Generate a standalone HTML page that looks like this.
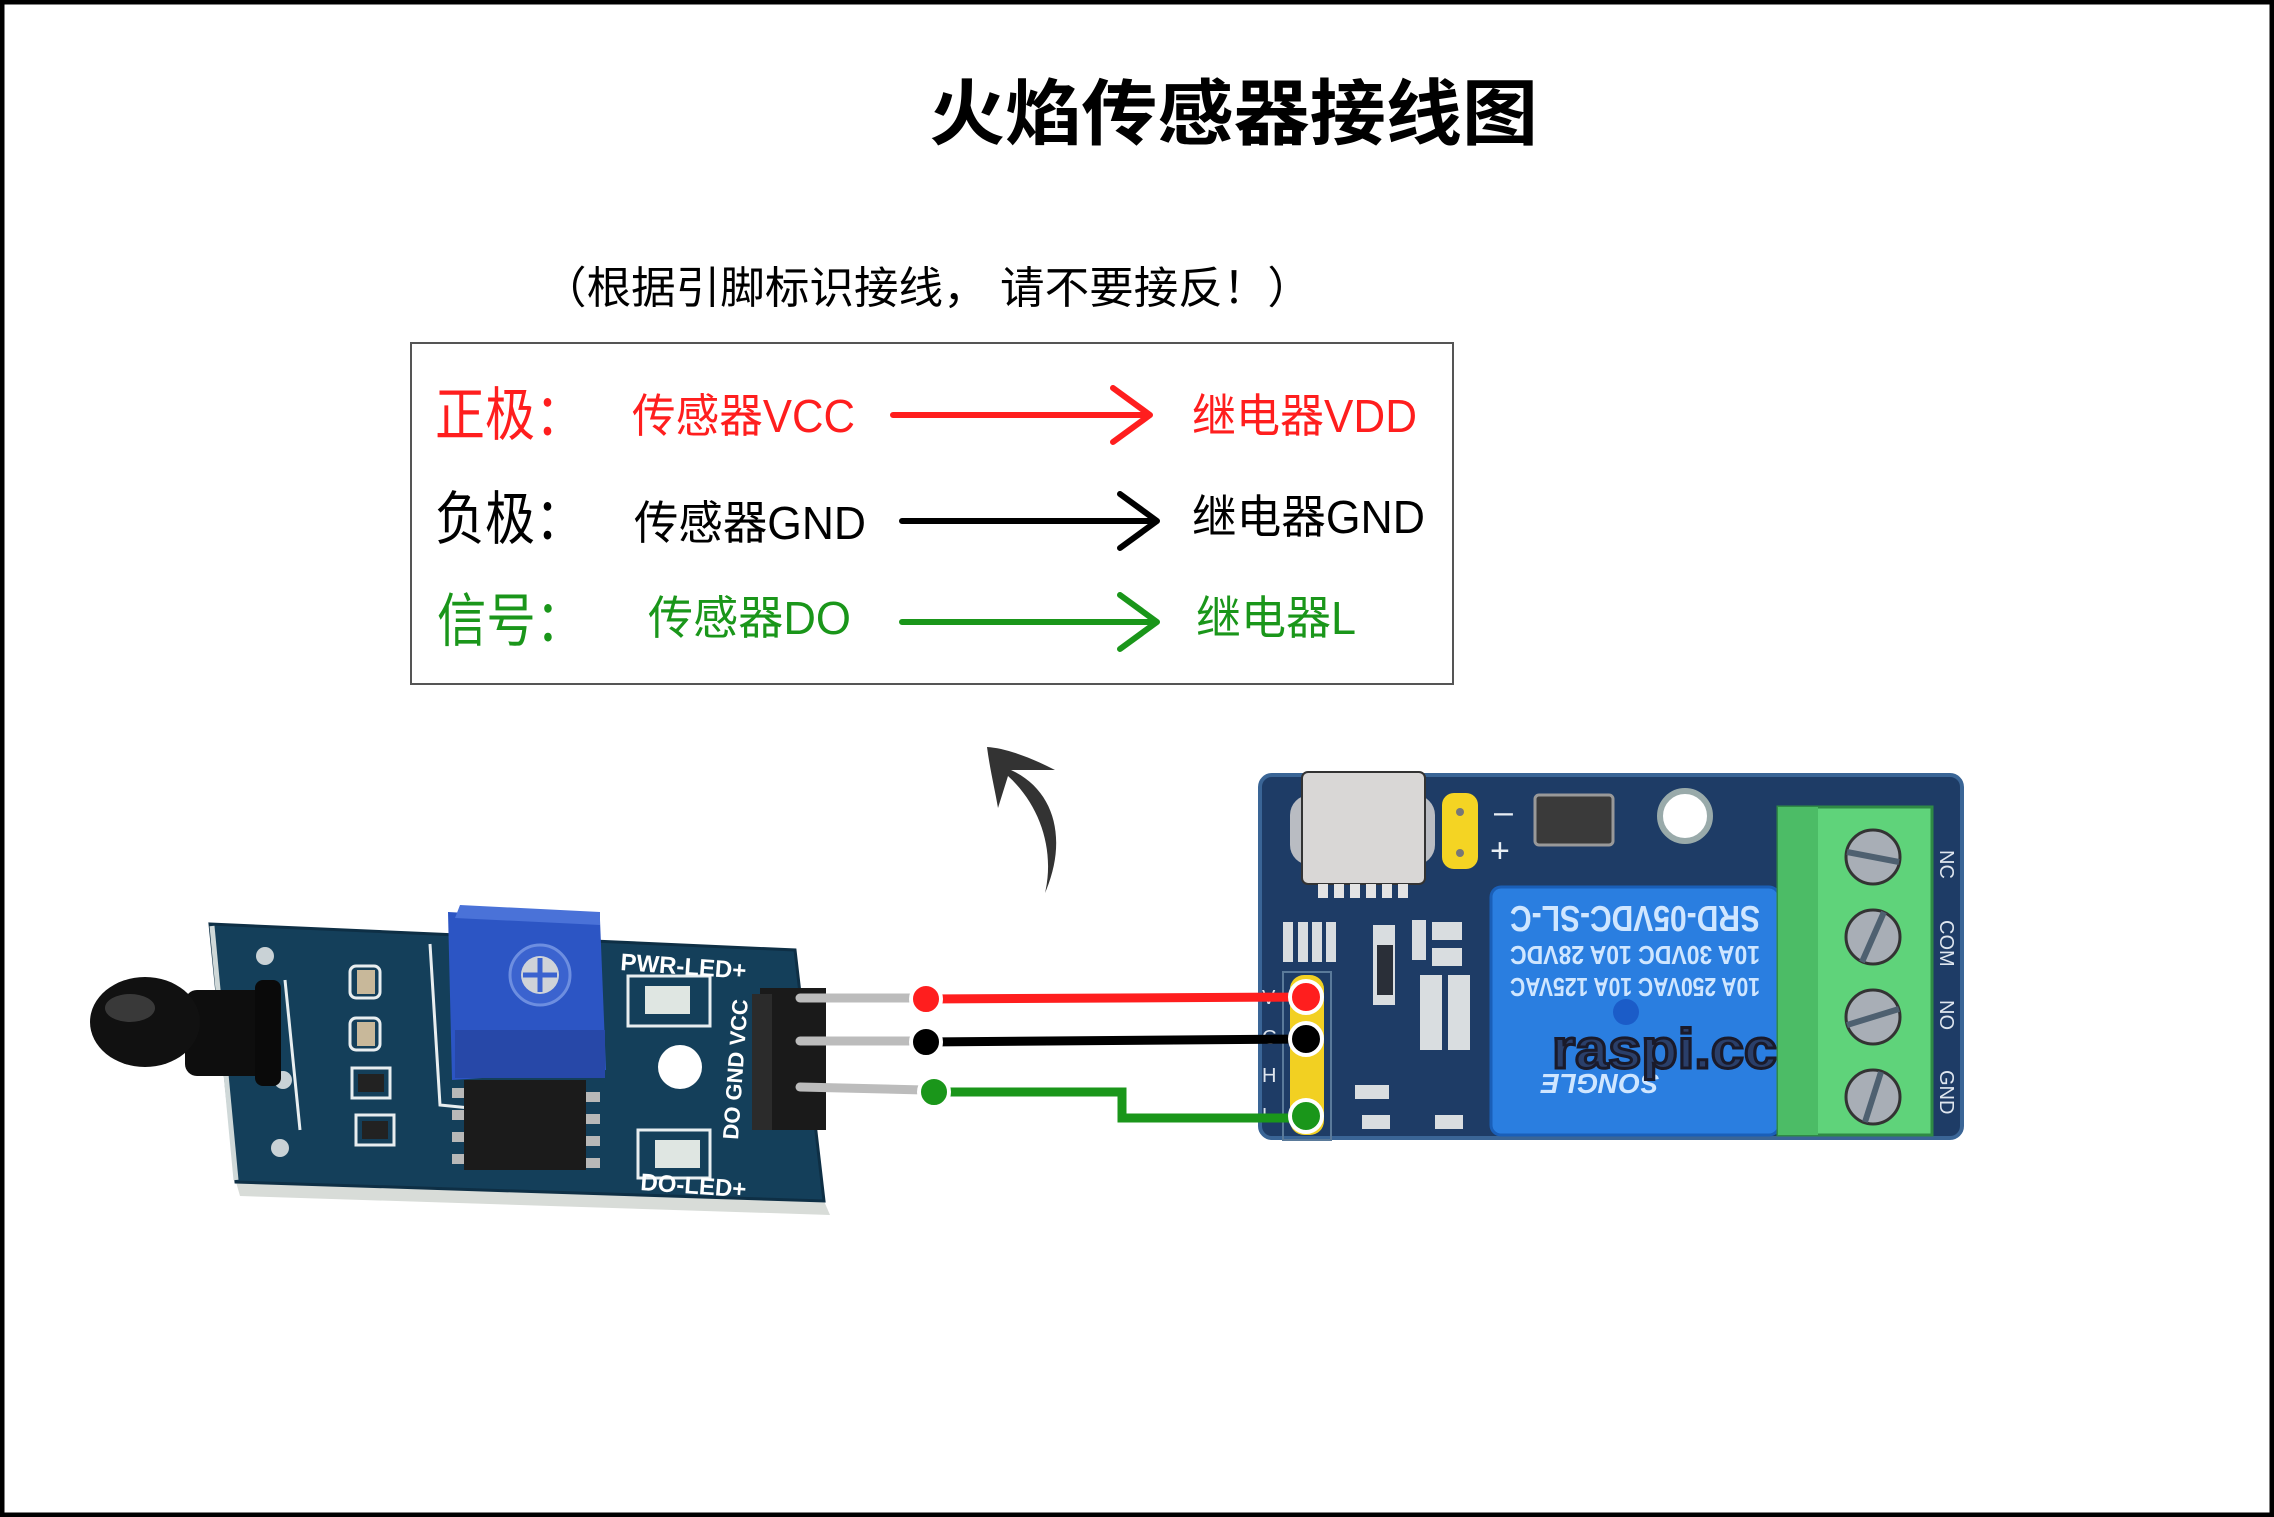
<!DOCTYPE html>
<html><head><meta charset="utf-8"><style>
html,body{margin:0;padding:0;background:#fff;}
svg{display:block;}
</style></head><body>
<svg width="2274" height="1517" viewBox="0 0 2274 1517" xmlns="http://www.w3.org/2000/svg" font-family="'Liberation Sans','Noto Sans CJK SC',sans-serif">
<rect x="2" y="2" width="2270" height="1513" fill="#fff" stroke="#000" stroke-width="5"/>
<!-- title -->
<text x="929" y="139" font-size="72" font-weight="bold" textLength="609" lengthAdjust="spacingAndGlyphs" fill="#000">火焰传感器接线图</text>
<text x="542" y="303" font-size="44" textLength="770" lengthAdjust="spacingAndGlyphs" fill="#000">（根据引脚标识接线， 请不要接反！）</text>
<!-- legend box -->
<rect x="411" y="343" width="1042" height="341" fill="#fff" stroke="#555" stroke-width="2"/>
<g font-size="58">
<text x="435" y="435" fill="#ff1e1e" textLength="150" lengthAdjust="spacingAndGlyphs">正极：</text>
<text x="435" y="539" fill="#000" textLength="150" lengthAdjust="spacingAndGlyphs">负极：</text>
<text x="437" y="641" fill="#1a961a" textLength="148" lengthAdjust="spacingAndGlyphs">信号：</text>
</g>
<g font-size="46">
<text x="632" y="432" fill="#ff1e1e" textLength="223" lengthAdjust="spacingAndGlyphs">传感器VCC</text>
<text x="1192" y="432" fill="#ff1e1e" textLength="225" lengthAdjust="spacingAndGlyphs">继电器VDD</text>
<text x="634" y="539" fill="#000" textLength="232" lengthAdjust="spacingAndGlyphs">传感器GND</text>
<text x="1192" y="533" fill="#000" textLength="233" lengthAdjust="spacingAndGlyphs">继电器GND</text>
<text x="648" y="634" fill="#1a961a" textLength="203" lengthAdjust="spacingAndGlyphs">传感器DO</text>
<text x="1196" y="634" fill="#1a961a" textLength="160" lengthAdjust="spacingAndGlyphs">继电器L</text>
</g>
<g fill="none" stroke-width="6" stroke-linecap="round" stroke-linejoin="round">
<path d="M893 415 H1150 M1113 388 L1150 415 L1113 442" stroke="#ff1e1e"/>
<path d="M902 521 H1157 M1120 494 L1157 521 L1120 548" stroke="#000"/>
<path d="M902 622 H1157 M1120 595 L1157 622 L1120 649" stroke="#1a961a"/>
</g>
<!-- curved arrow -->
<path d="M1045 893 C1068 840 1055 790 1011 770 L1055 770 C1030 757 1005 748 987 747 C990 770 995 790 998 808 L1008 776 C1040 805 1055 850 1045 893 Z" fill="#333"/>

<!-- ===== sensor module ===== -->
<g>
<polygon points="236,1182 824,1201 830,1215 240,1196" fill="#d8dcd8"/>
<polygon points="210,924 795,950 824,1201 236,1182" fill="#143f5a"/>
<polygon points="210,924 795,950 824,1201 236,1182" fill="none" stroke="#0e2f45" stroke-width="3"/>
<line x1="212" y1="926" x2="236" y2="1180" stroke="#cfd8d8" stroke-width="5"/>
<g fill="none" stroke="#e8eef0" stroke-width="3">
<rect x="350" y="966" width="30" height="32" rx="6"/>
<rect x="350" y="1018" width="30" height="32" rx="6"/>
<rect x="352" y="1068" width="38" height="30"/>
<rect x="356" y="1115" width="38" height="30"/>
<rect x="628" y="976" width="82" height="50"/>
<rect x="638" y="1130" width="72" height="48"/>
<path d="M285 980 L300 1130 M430 944 L440 1105 L470 1108"/>
</g>
<circle cx="265" cy="956" r="9" fill="#c9d2d6"/>
<circle cx="280" cy="1148" r="9" fill="#c9d2d6"/>
<circle cx="283" cy="1080" r="9" fill="#c9d2d6"/>
<rect x="357" y="970" width="18" height="24" fill="#c8b89a"/>
<rect x="357" y="1022" width="18" height="24" fill="#c8b89a"/>
<rect x="358" y="1074" width="26" height="18" fill="#222"/>
<rect x="362" y="1121" width="26" height="18" fill="#222"/>
<rect x="645" y="986" width="45" height="28" fill="#dfe6e2"/>
<rect x="655" y="1140" width="45" height="28" fill="#dfe6e2"/>
<circle cx="680" cy="1067" r="22" fill="#fff"/>
<text x="620" y="970" font-size="24" font-weight="bold" fill="#fff" transform="rotate(4 620 970)">PWR-LED+</text>
<text x="640" y="1190" font-size="24" font-weight="bold" fill="#fff" transform="rotate(4 640 1190)">DO-LED+</text>
<text x="738" y="1140" font-size="22" font-weight="bold" fill="#fff" transform="rotate(-86 738 1140)">DO GND VCC</text>
<g fill="#b8b8b8">
<rect x="452" y="1088" width="16" height="10"/><rect x="452" y="1110" width="16" height="10"/><rect x="452" y="1132" width="16" height="10"/><rect x="452" y="1154" width="16" height="10"/>
<rect x="584" y="1092" width="16" height="10"/><rect x="584" y="1114" width="16" height="10"/><rect x="584" y="1136" width="16" height="10"/><rect x="584" y="1158" width="16" height="10"/>
</g>
<rect x="464" y="1080" width="122" height="90" fill="#1b1b1b"/>
<polygon points="448,912 600,920 606,1070 452,1080" fill="#2c55c4"/>
<polygon points="460,905 600,912 600,925 455,918" fill="#4a72d8"/>
<circle cx="540" cy="975" r="30" fill="#3b63cf" stroke="#6d8ee0" stroke-width="3"/>
<circle cx="540" cy="975" r="19" fill="#cfd3d8"/>
<path d="M540 958 V992 M523 975 H557" stroke="#3b63cf" stroke-width="5"/>
<rect x="455" y="1030" width="150" height="48" fill="#2748a8"/>
<rect x="760" y="988" width="66" height="142" fill="#1a1a1a"/>
<rect x="752" y="994" width="20" height="136" fill="#2b2b2b"/>
<g stroke="#bcbcbc" stroke-width="9" stroke-linecap="round">
<line x1="800" y1="998" x2="918" y2="998"/>
<line x1="800" y1="1041" x2="918" y2="1041"/>
<line x1="800" y1="1087" x2="924" y2="1090"/>
</g>
<rect x="185" y="990" width="90" height="86" rx="12" fill="#0e0e0e"/>
<ellipse cx="145" cy="1022" rx="55" ry="45" fill="#111"/>
<ellipse cx="130" cy="1008" rx="25" ry="14" fill="#555" opacity="0.6"/>
<rect x="255" y="980" width="26" height="106" rx="8" fill="#0a0a0a"/>
</g>

<!-- ===== relay module ===== -->
<g>
<rect x="1260" y="775" width="702" height="363" rx="12" fill="#1e3c66" stroke="#3a6596" stroke-width="4"/>
<rect x="1290" y="795" width="145" height="70" rx="20" fill="#b9bcc2"/>
<rect x="1302" y="772" width="123" height="112" rx="6" fill="#d9d7d6" stroke="#333" stroke-width="2"/>
<g fill="#e4e4e4"><rect x="1318" y="884" width="10" height="14"/><rect x="1334" y="884" width="10" height="14"/><rect x="1350" y="884" width="10" height="14"/><rect x="1366" y="884" width="10" height="14"/><rect x="1382" y="884" width="10" height="14"/><rect x="1398" y="884" width="10" height="14"/></g>
<rect x="1442" y="793" width="36" height="76" rx="12" fill="#f4d423"/>
<circle cx="1460" cy="812" r="4" fill="#777"/><circle cx="1460" cy="853" r="4" fill="#777"/>
<text x="1494" y="823" font-size="34" fill="#e8eef4">–</text>
<text x="1490" y="862" font-size="34" fill="#e8eef4">+</text>
<rect x="1535" y="795" width="78" height="50" rx="4" fill="#3a3a3a" stroke="#999" stroke-width="3"/>
<circle cx="1685" cy="816" r="25" fill="#fff" stroke="#9aa" stroke-width="6"/>
<g fill="#d9dde0">
<rect x="1283" y="922" width="10" height="40"/><rect x="1298" y="922" width="10" height="40"/><rect x="1312" y="922" width="10" height="40"/><rect x="1326" y="922" width="10" height="40"/>
<rect x="1373" y="925" width="22" height="80"/><rect x="1412" y="920" width="14" height="40"/>
<rect x="1432" y="922" width="30" height="18"/><rect x="1432" y="948" width="30" height="18"/>
<rect x="1420" y="975" width="22" height="75"/><rect x="1448" y="975" width="22" height="75"/>
<rect x="1355" y="1085" width="34" height="14"/><rect x="1362" y="1115" width="28" height="14"/>
<rect x="1435" y="1115" width="28" height="14"/>
</g>
<rect x="1377" y="945" width="16" height="50" fill="#2a2f38"/>
<rect x="1283" y="972" width="48" height="168" fill="none" stroke="#5a7a9a" stroke-width="2"/>
<rect x="1290" y="975" width="34" height="160" rx="14" fill="#f2d022"/>
<g font-size="20" fill="#dfe6ee">
<text x="1262" y="1004">V</text><text x="1262" y="1044">G</text><text x="1262" y="1082">H</text><text x="1262" y="1122">L</text>
</g>
<rect x="1491" y="887" width="288" height="248" rx="10" fill="#2a7ee0" stroke="#1a5fb8" stroke-width="3"/>
<g fill="#cfe6ff" font-weight="bold" text-anchor="middle">
<text x="1635" y="930" font-size="36" textLength="250" lengthAdjust="spacingAndGlyphs" transform="rotate(180 1635 918)">SRD-05VDC-SL-C</text>
<text x="1635" y="966" font-size="26" textLength="250" lengthAdjust="spacingAndGlyphs" transform="rotate(180 1635 956)">10A 30VDC 10A 28VDC</text>
<text x="1635" y="998" font-size="26" textLength="250" lengthAdjust="spacingAndGlyphs" transform="rotate(180 1635 988)">10A 250VAC 10A 125VAC</text>
<text x="1600" y="1090" font-size="28" font-style="italic" transform="rotate(180 1600 1082)">SONGLE</text>
</g>
<circle cx="1626" cy="1012" r="13" fill="#1b5cc8"/>
<text x="1552" y="1068" font-size="56" font-weight="bold" fill="#2a3f6a" stroke="#1a1a2a" stroke-width="3" textLength="225" lengthAdjust="spacingAndGlyphs">raspi.cc</text>
<rect x="1778" y="807" width="154" height="328" fill="#5fd37a" stroke="#2f8a45" stroke-width="3"/>
<rect x="1778" y="807" width="40" height="328" fill="#4cbc66"/>
<g fill="#a8aeb6" stroke="#333" stroke-width="3">
<circle cx="1873" cy="857" r="27"/><circle cx="1873" cy="937" r="27"/><circle cx="1873" cy="1017" r="27"/><circle cx="1873" cy="1097" r="27"/>
</g>
<g stroke="#4e6070" stroke-width="6">
<line x1="1847" y1="852" x2="1899" y2="862"/><line x1="1862" y1="962" x2="1884" y2="912"/><line x1="1847" y1="1025" x2="1899" y2="1009"/><line x1="1865" y1="1122" x2="1881" y2="1072"/>
</g>
<g font-size="20" fill="#dfe6ee">
<text x="1940" y="850" transform="rotate(90 1940 850)">NC</text>
<text x="1940" y="920" transform="rotate(90 1940 920)">COM</text>
<text x="1940" y="1000" transform="rotate(90 1940 1000)">NO</text>
<text x="1940" y="1070" transform="rotate(90 1940 1070)">GND</text>
</g>
</g>

<g fill="none" stroke-width="9">
<line x1="926" y1="999" x2="1306" y2="997" stroke="#ff1e1e"/>
<line x1="926" y1="1042" x2="1306" y2="1039" stroke="#000"/>
<path d="M934 1092 H1122 V1118 H1306" stroke="#1a961a"/>
</g>
<g stroke="#fff" stroke-width="4">
<circle cx="926" cy="999" r="15" fill="#ff1e1e"/>
<circle cx="926" cy="1042" r="15" fill="#000"/>
<circle cx="934" cy="1092" r="15" fill="#1a961a"/>
<circle cx="1306" cy="997" r="16" fill="#ff1e1e"/>
<circle cx="1306" cy="1039" r="16" fill="#000"/>
<circle cx="1306" cy="1116" r="16" fill="#1a961a"/>
</g>
</svg>
</body></html>
